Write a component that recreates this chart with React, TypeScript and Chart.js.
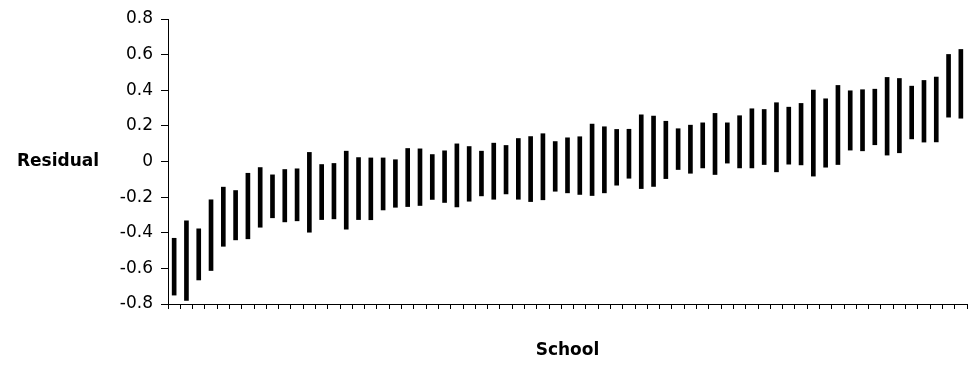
import React, { useEffect, useRef } from "react";
import { Chart, registerables } from "chart.js";

Chart.register(...registerables);

const schools: string[] = Array.from({ length: 65 }, (_, i) => `School ${i + 1}`);

const lows: number[] = [
  -0.75, -0.78, -0.665, -0.612, -0.476, -0.44, -0.434, -0.369, -0.316, -0.339,
  -0.333, -0.397, -0.326, -0.322, -0.38, -0.326, -0.327, -0.272, -0.257, -0.253,
  -0.247, -0.213, -0.23, -0.255, -0.223, -0.193, -0.212, -0.182, -0.212, -0.225,
  -0.215, -0.167, -0.176, -0.185, -0.191, -0.176, -0.133, -0.094, -0.152, -0.14,
  -0.096, -0.045, -0.066, -0.036, -0.073, -0.009, -0.036, -0.036, -0.017, -0.058,
  -0.015, -0.019, -0.082, -0.032, -0.017, 0.064, 0.06, 0.094, 0.036, 0.049,
  0.127, 0.109, 0.11, 0.249, 0.243,
];

const highs: number[] = [
  -0.431, -0.333, -0.378, -0.215, -0.144, -0.163, -0.066, -0.034, -0.075, -0.045,
  -0.041, 0.051, -0.017, -0.011, 0.058, 0.022, 0.02, 0.02, 0.01, 0.073,
  0.071, 0.039, 0.06, 0.099, 0.084, 0.058, 0.103, 0.09, 0.129, 0.14,
  0.156, 0.112, 0.133, 0.139, 0.21, 0.195, 0.18, 0.181, 0.262, 0.255,
  0.226, 0.184, 0.204, 0.217, 0.27, 0.217, 0.257, 0.296, 0.292, 0.33,
  0.305, 0.326, 0.401, 0.352, 0.427, 0.397, 0.403, 0.406, 0.472, 0.466,
  0.423, 0.455, 0.474, 0.601, 0.629,
];

const yTitle = "Residual";
const xTitle = "School";

const titlesPlugin = {
  id: "customTitles",
  afterDraw(chart: any) {
    const { ctx, chartArea, scales } = chart;
    ctx.save();
    ctx.fillStyle = "#000";
    ctx.font = "bold 17px 'DejaVu Sans'";
    ctx.textBaseline = "middle";
    ctx.textAlign = "left";
    ctx.fillText(yTitle, 17, scales.y.getPixelForValue(0));
    ctx.textAlign = "center";
    ctx.fillText(xTitle, (chartArea.left + chartArea.right) / 2, 351);
    ctx.restore();
  },
};

export default function App() {
  const canvasRef = useRef<HTMLCanvasElement | null>(null);

  useEffect(() => {
    if (!canvasRef.current) return;
    const chart = new Chart(canvasRef.current, {
      type: "bar",
      data: {
        labels: schools,
        datasets: [
          {
            data: lows.map((l, i) => [l, highs[i]]) as any,
            backgroundColor: "#000",
            borderWidth: 0,
            barThickness: 4,
          },
        ],
      },
      options: {
        animation: false,
        responsive: true,
        maintainAspectRatio: false,
        layout: { padding: { top: 19, right: 2, left: 0, bottom: 0 } },
        plugins: {
          legend: { display: false },
          tooltip: { enabled: false },
          title: { display: false },
        },
        scales: {
          x: {
            offset: true,
            grid: {
              offset: true,
              drawOnChartArea: false,
              drawTicks: true,
              tickLength: 5,
              color: "#000",
            },
            border: { display: true, color: "#000", width: 1 },
            ticks: { display: false },
            afterFit: (scale: any) => {
              scale.height = 74;
            },
          },
          y: {
            min: -0.8,
            max: 0.8,
            ticks: {
              stepSize: 0.2,
              color: "#000",
              padding: 8,
              font: { family: "'DejaVu Sans'", size: 17 },
            },
            grid: {
              drawOnChartArea: false,
              drawTicks: true,
              tickLength: 7,
              color: "#000",
            },
            border: { display: true, color: "#000", width: 1 },
            afterFit: (scale: any) => {
              scale.width = 168;
            },
          },
        },
      },
      plugins: [titlesPlugin],
    });
    return () => chart.destroy();
  }, []);

  return (
    <div style={{ position: "fixed", left: 0, top: 0, width: 969, height: 378, background: "#fff" }}>
      <canvas ref={canvasRef} />
    </div>
  );
}
